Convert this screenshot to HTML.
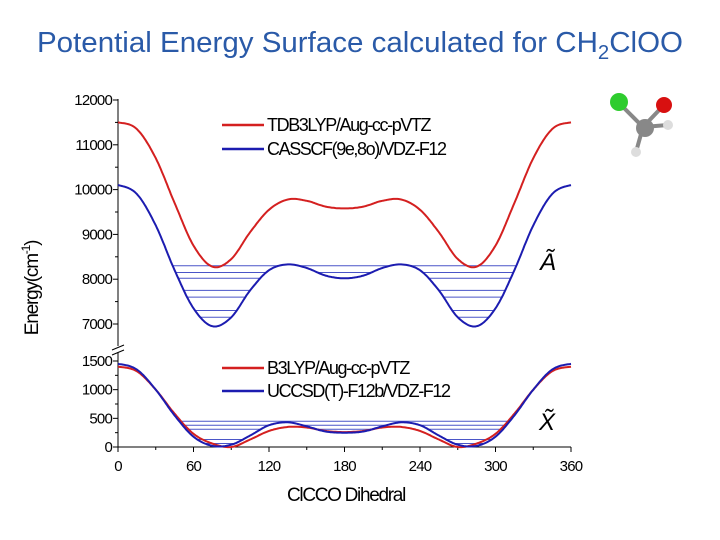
<!DOCTYPE html>
<html><head><meta charset="utf-8"><style>
body{margin:0;width:720px;height:540px;background:#fff;overflow:hidden}
svg{display:block}
text{font-family:"Liberation Sans",sans-serif}
</style></head><body>
<svg id="c" width="720" height="540">
<text x="37" y="52" font-size="29" fill="#2a5aa8" textLength="646" lengthAdjust="spacingAndGlyphs">Potential Energy Surface calculated for CH<tspan font-size="20" dy="7">2</tspan><tspan dy="-7">ClOO</tspan></text>
<g>
<line x1="619" y1="103" x2="643" y2="127" stroke="#888" stroke-width="4"/>
<line x1="643" y1="127" x2="663" y2="106" stroke="#888" stroke-width="4"/>
<line x1="643" y1="127" x2="636" y2="152" stroke="#888" stroke-width="4"/>
<line x1="643" y1="127" x2="668" y2="125" stroke="#888" stroke-width="4"/>
<circle cx="619" cy="102" r="9" fill="#2ecc2e"/>
<circle cx="664" cy="105" r="8" fill="#d81010"/>
<circle cx="645" cy="128" r="9" fill="#888"/>
<circle cx="668" cy="125" r="5" fill="#ddd"/>
<circle cx="636" cy="152" r="5" fill="#ddd"/>
</g>
<g id="g"></g>
</svg>
<script>
const angles=[0,15,30,45,60,75,90,105,120,135,150,165,180,195,210,225,240,255,270,285,300,315,330,345,360];
const redTop=[11500,11350,10700,9700,8750,8280,8450,9050,9550,9780,9750,9620,9580,9620,9750,9780,9550,9050,8450,8280,8750,9700,10700,11350,11500];
const blueTop=[10100,9900,9200,8200,7350,6950,7150,7750,8200,8330,8250,8080,8020,8080,8250,8330,8200,7750,7150,6950,7350,8200,9200,9900,10100];
const redBot=[1400,1320,1000,580,230,60,0,130,280,350,340,280,260,280,340,350,280,130,0,60,230,580,1000,1320,1400];
const blueBot=[1450,1350,1000,550,180,20,40,200,380,430,360,270,250,270,360,430,380,200,40,20,180,550,1000,1350,1450];
const levelsTop=[8300,8150,8020,7750,7600,7300,7150];
const levelsBot=[450,380,310,130,60];
const xTicks=[0,60,120,180,240,300,360];
const yTopTicks=[7000,8000,9000,10000,11000,12000];
const yBotTicks=[0,500,1000,1500];
const NS="http://www.w3.org/2000/svg";
const g=document.getElementById('g');
const X=v=>118+v*(571-118)/360;
const YT=v=>324-(v-7000)*(224/5000);
const YB=v=>447-v*(86/1500);
function el(t,a,p){const e=document.createElementNS(NS,t);for(const k in a)e.setAttribute(k,a[k]);(p||g).appendChild(e);return e;}
function interp(arr,a){const i=Math.min(Math.floor(a/15),23);const t=(a-angles[i])/15;
 const p0=arr[Math.max(i-1,0)],p1=arr[i],p2=arr[i+1],p3=arr[Math.min(i+2,24)];
 return 0.5*((2*p1)+(-p0+p2)*t+(2*p0-5*p1+4*p2-p3)*t*t+(-p0+3*p1-3*p2+p3)*t*t*t);}
function curve(arr,Y,color,name){let d='';for(let a=0;a<=360;a+=1){d+=(a?'L':'M')+X(a).toFixed(1)+','+Y(interp(arr,a)).toFixed(1);}
 const p=el('path',{d:d,fill:'none',stroke:color,'stroke-width':2});
 
 }
function levels(arr,lv,Y,name){lv.forEach((L,j)=>{let start=null;
 for(let a=0;a<=360;a+=0.5){const below=interp(arr,a)<L;
  if(below&&start===null)start=a;
  if((!below||a>=360)&&start!==null){const l=el('line',{x1:X(start),x2:X(a),y1:Y(L),y2:Y(L),stroke:'#4a55c8','stroke-width':1});
   
   start=null;}}});}
el('line',{x1:118,y1:99,x2:118,y2:346,stroke:'#000','stroke-width':1});
el('line',{x1:118,y1:352,x2:118,y2:447,stroke:'#000','stroke-width':1});
el('line',{x1:118,y1:447,x2:571,y2:447,stroke:'#000','stroke-width':1});
el('path',{d:'M112,350 L124,345 M112,355 L124,350',stroke:'#000',fill:'none'});
yTopTicks.forEach(v=>{el('line',{x1:113,x2:118,y1:YT(v),y2:YT(v),stroke:'#000'});
 if(v<12000)el('line',{x1:115,x2:118,y1:YT(v+500),y2:YT(v+500),stroke:'#000'});
 const t=el('text',{x:112,y:YT(v)+5,'font-size':15,'text-anchor':'end','letter-spacing':'-0.8'});t.textContent=v;
 
 });
yBotTicks.forEach(v=>{el('line',{x1:113,x2:118,y1:YB(v),y2:YB(v),stroke:'#000'});
 if(v<1500)el('line',{x1:115,x2:118,y1:YB(v+250),y2:YB(v+250),stroke:'#000'});
 const t=el('text',{x:112,y:YB(v)+5,'font-size':15,'text-anchor':'end','letter-spacing':'-0.8'});t.textContent=v;
 
 });
xTicks.forEach(v=>{el('line',{x1:X(v),x2:X(v),y1:447,y2:452,stroke:'#000'});
 if(v<360)el('line',{x1:X(v+30),x2:X(v+30),y1:447,y2:450,stroke:'#000'});
 const t=el('text',{x:X(v),y:471,'font-size':15,'text-anchor':'middle','letter-spacing':'-0.8'});t.textContent=v;
 
 });
let t=el('text',{x:346,y:501,'font-size':19,'text-anchor':'middle','letter-spacing':'-1.3'});t.textContent='ClCCO Dihedral';

t=el('text',{x:0,y:0,'font-size':19,'text-anchor':'middle','letter-spacing':'-1.2',transform:'translate(38,288) rotate(-90)'});t.innerHTML='Energy(cm<tspan font-size="12" dy="-8">-1</tspan><tspan dy="8">)</tspan>';

levels(blueTop,levelsTop,YT,'level-a');
levels(blueBot,levelsBot,YB,'level-x');
curve(redTop,YT,'#d42020','tdb3lyp-line');
curve(blueTop,YT,'#1c1cb0','casscf-line');
curve(redBot,YB,'#d42020','b3lyp-line');
curve(blueBot,YB,'#1c1cb0','uccsd-line');
[[125,'#d42020','TDB3LYP/Aug-cc-pVTZ'],[149,'#1c1cb0','CASSCF(9e,8o)/VDZ-F12'],[368,'#d42020','B3LYP/Aug-cc-pVTZ'],[391,'#1c1cb0','UCCSD(T)-F12b/VDZ-F12']].forEach(r=>{
 const l=el('line',{x1:222,x2:264,y1:r[0],y2:r[0],stroke:r[1],'stroke-width':2.5});
 
 const tx=el('text',{x:267,y:r[0]+6,'font-size':18,'letter-spacing':'-1.4'});tx.textContent=r[2];
 });
t=el('text',{x:540,y:270,'font-size':24,'font-style':'italic','font-family':'Liberation Serif'});t.textContent='Ã';

t=el('text',{x:539,y:430,'font-size':24,'font-style':'italic','font-family':'Liberation Serif'});t.textContent='X̃';

</script>
</body></html>
